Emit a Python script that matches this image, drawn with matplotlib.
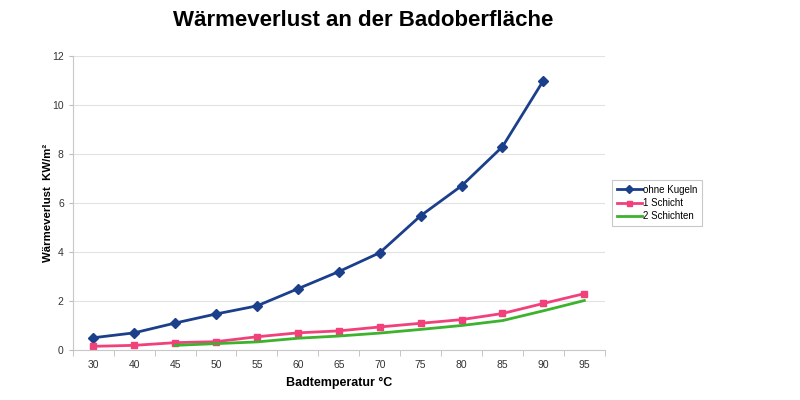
import matplotlib
matplotlib.use("Agg")
import matplotlib.pyplot as plt
import numpy as np

plt.rcParams["font.family"] = ["Liberation Sans", "DejaVu Sans"]

# ====== Daten ======
temperaturen = ["30", "40", "45", "50", "55", "60", "65", "70", "75", "80", "85", "90", "95"]
ohne_kugeln = [0.5, 0.7, 1.1, 1.47, 1.8, 2.5, 3.2, 3.97, 5.48, 6.7, 8.3, 11.0, np.nan]
eine_schicht = [0.15, 0.19, 0.3, 0.34, 0.54, 0.7, 0.78, 0.94, 1.09, 1.24, 1.49, 1.9, 2.3]
zwei_schichten = [np.nan, np.nan, 0.19, 0.26, 0.33, 0.48, 0.57, 0.69, 0.84, 1.0, 1.2, 1.6, 2.02]

c_ohne = "#1B3F8B"
c_eine = "#F2407A"
c_zwei = "#3DB22E"

fig = plt.figure(figsize=(8, 4), dpi=100)
ax = fig.add_axes([0.091, 0.125, 0.665, 0.735])
x = np.arange(len(temperaturen))

ax.plot(x, ohne_kugeln, color=c_ohne, linewidth=2.0, marker="D", markersize=5.5,
        label="ohne Kugeln")
ax.plot(x, eine_schicht, color=c_eine, linewidth=2.0, marker="s", markersize=4.5,
        label="1 Schicht")
ax.plot(x, zwei_schichten, color=c_zwei, linewidth=2.0, label="2 Schichten")

ax.set_xlim(-0.5, len(temperaturen) - 0.5)
ax.set_ylim(0, 12)
ax.set_yticks(range(0, 13, 2))
ax.set_xticks(x)
ax.set_xticklabels(temperaturen, fontsize=7.5, color="#333333")
ax.set_xticks(np.arange(-0.5, len(temperaturen), 1), minor=True)
ax.tick_params(axis="x", which="major", length=0, pad=7)
ax.tick_params(axis="x", which="minor", length=4, color="#BBBBBB")
ax.tick_params(axis="y", labelsize=7.5, labelcolor="#333333", length=3, color="#BBBBBB")

ax.grid(axis="y", color="#E2E2E2", linewidth=0.8)
ax.set_axisbelow(True)
for s in ["top", "right"]:
    ax.spines[s].set_visible(False)
for s in ["left", "bottom"]:
    ax.spines[s].set_color("#C8C8C8")

ax.set_xlabel("Badtemperatur °C", fontsize=9, fontweight="bold", labelpad=5)
ax.set_ylabel("Wärmeverlust  KW/m²", fontsize=8.2, fontweight="bold")
ax.yaxis.set_label_coords(-0.038, 0.5)

fig.text(0.454, 0.948, "Wärmeverlust an der Badoberfläche", fontsize=16,
         fontweight="bold", ha="center", va="center")

leg = ax.legend(loc="center left", bbox_to_anchor=(1.005, 0.5), fontsize=7,
                frameon=True, fancybox=False, borderpad=0.45, handlelength=2.6,
                handletextpad=0.15, labelspacing=0.35, markerscale=0.8)
leg.get_frame().set_edgecolor("#BBBBBB")
leg.get_frame().set_linewidth(0.8)

plt.savefig("out.png", dpi=100, facecolor="white")
plt.close()
